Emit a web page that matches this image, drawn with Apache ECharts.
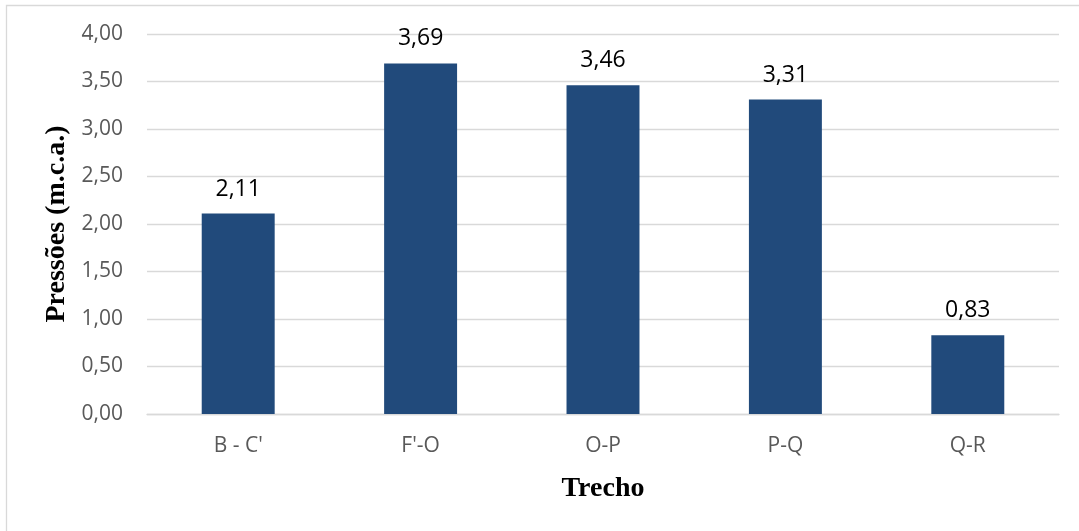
<!DOCTYPE html>
<html>
<head>
<meta charset="utf-8">
<title>Pressões por trecho</title>
<script src="https://cdn.jsdelivr.net/npm/echarts@6/dist/echarts.min.js"></script>
<style>
  html, body { margin: 0; padding: 0; background: #ffffff; }
  #chart { width: 1079px; height: 531px; }
</style>
</head>
<body>
<div id="chart"></div>
<script>
// Pressure (m.c.a.) at each pipe section
const trechos = ["B - C'", "F'-O", "O-P", "P-Q", "Q-R"];
const pressoes = [2.11, 3.69, 3.46, 3.31, 0.83];

const fmt = v => Number(v).toFixed(2).replace('.', ',');

const chart = echarts.init(document.getElementById('chart'), null, { renderer: 'canvas' });

chart.setOption({
  backgroundColor: '#ffffff',
  animation: false,
  graphic: [{
    type: 'rect',
    silent: true,
    shape: { x: 6.5, y: 5.5, width: 1200, height: 700 },
    style: { fill: 'none', stroke: '#d9d9d9', lineWidth: 1.3 }
  }],
  grid: { left: 147, right: 20, top: 34, bottom: 117 },
  xAxis: {
    type: 'category',
    data: trechos,
    name: 'Trecho',
    nameLocation: 'middle',
    nameGap: 61,
    nameTextStyle: {
      fontFamily: 'Liberation Serif', fontWeight: 'bold', fontSize: 28, color: '#000000'
    },
    axisLine: { lineStyle: { color: '#d9d9d9', width: 1.3 } },
    axisTick: { show: false },
    axisLabel: {
      margin: 22,
      fontFamily: 'Open Sans', fontSize: 21, color: '#595959'
    }
  },
  yAxis: {
    type: 'value',
    min: 0,
    max: 4,
    interval: 0.5,
    name: 'Pressões (m.c.a.)',
    nameLocation: 'middle',
    nameRotate: 90,
    nameGap: 75,
    nameTextStyle: {
      fontFamily: 'Liberation Serif', fontWeight: 'bold', fontSize: 28, color: '#000000'
    },
    axisLine: { show: false },
    axisTick: { show: false },
    splitLine: { lineStyle: { color: '#d9d9d9', width: 1.3 } },
    axisLabel: {
      margin: 24,
      formatter: fmt,
      fontFamily: 'Open Sans', fontSize: 21, color: '#595959'
    }
  },
  series: [{
    type: 'bar',
    data: pressoes,
    barWidth: '40%',
    itemStyle: { color: '#214a7b' },
    label: {
      show: true,
      position: 'top',
      distance: 13,
      formatter: p => fmt(p.value),
      fontFamily: 'Open Sans', fontSize: 23, color: '#000000'
    }
  }]
});
</script>
</body>
</html>
